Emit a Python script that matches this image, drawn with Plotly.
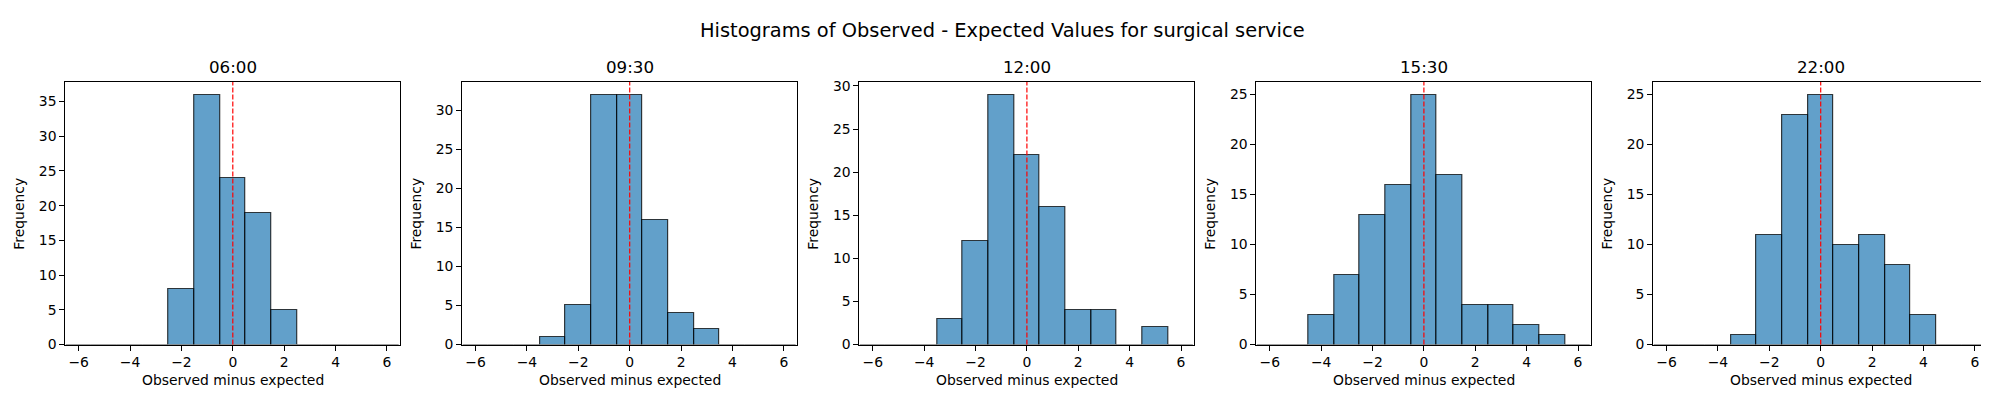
import plotly.graph_objects as go

W, H = 1989, 396

bin_centers = list(range(-6, 7))
titles = ["06:00", "09:30", "12:00", "15:30", "22:00"]
counts_0600 = [0, 0, 0, 0, 8, 36, 24, 19, 5, 0, 0, 0, 0]
counts_0930 = [0, 0, 0, 1, 5, 32, 32, 16, 4, 2, 0, 0, 0]
counts_1200 = [0, 0, 0, 3, 12, 29, 22, 16, 4, 4, 0, 2, 0]
counts_1530 = [0, 0, 3, 7, 13, 16, 25, 17, 4, 4, 2, 1, 0]
counts_2200 = [0, 0, 0, 1, 11, 23, 25, 10, 11, 8, 3, 0, 0]
all_counts = [counts_0600, counts_0930, counts_1200, counts_1530, counts_2200]
x_ticks = [-6, -4, -2, 0, 2, 4, 6]

suptitle = "Histograms of Observed - Expected Values for surgical service"
xlabel = "Observed minus expected"
ylabel = "Frequency"

FONT = "DejaVu Sans, sans-serif"

# layout in pixels
lefts = [57.3, 454.2, 851.4, 1248.4, 1645.2]
pw = 335.0
top_px, bot_px = 72.3, 343.0

fig = go.Figure()
annotations = []
shapes = []
for i, (t, c) in enumerate(zip(titles, all_counts)):
    n = i + 1
    xa = "x" if n == 1 else f"x{n}"
    ya = "y" if n == 1 else f"y{n}"
    fig.add_trace(go.Bar(
        x=bin_centers, y=c, width=1.0,
        marker=dict(color="rgba(31,119,180,0.7)",
                    line=dict(color="rgba(0,0,0,0.75)", width=1.2)),
        xaxis=xa, yaxis=ya, showlegend=False, hoverinfo="x+y",
    ))
    x0 = lefts[i] / W
    x1 = (lefts[i] + pw) / W
    ymax = max(c) * 1.05
    fig.layout[f"xaxis{'' if n == 1 else n}"] = dict(
        domain=[x0, x1], anchor=ya, range=[-6.52, 6.52],
        tickvals=x_ticks, ticks="outside", ticklen=5, tickwidth=1,
        tickcolor="black", showline=True, linecolor="black", linewidth=1,
        mirror=True, showgrid=False, zeroline=False,
        tickfont=dict(family=FONT, size=13.9, color="black"),
    )
    fig.layout[f"yaxis{'' if n == 1 else n}"] = dict(
        domain=[1 - bot_px / H, 1 - top_px / H], anchor=xa, range=[0, ymax],
        dtick=5, tick0=0, ticks="outside", ticklen=5, tickwidth=1,
        tickcolor="black", showline=True, linecolor="black", linewidth=1,
        mirror=True, showgrid=False, zeroline=False,
        tickfont=dict(family=FONT, size=13.9, color="black"),
    )
    shapes.append(dict(type="line", xref=xa, yref=f"{ya} domain",
                       x0=0, x1=0, y0=0, y1=1,
                       line=dict(color="red", width=1.2, dash="5px,2px")))
    cx = (lefts[i] + pw / 2) / W
    annotations.append(dict(text=t, x=cx, y=1 - top_px / H, xref="paper",
                            yref="paper", xanchor="center", yanchor="bottom",
                            yshift=3, showarrow=False,
                            font=dict(family=FONT, size=16.7, color="black")))
    annotations.append(dict(text=xlabel, x=cx, y=1 - 379 / H, xref="paper",
                            yref="paper", xanchor="center", yanchor="middle",
                            showarrow=False,
                            font=dict(family=FONT, size=13.9, color="black")))
    annotations.append(dict(text=ylabel, x=(lefts[i] - 46) / W,
                            y=1 - (top_px + bot_px) / 2 / H,
                            xref="paper", yref="paper", xanchor="center",
                            yanchor="middle", textangle=-90, showarrow=False,
                            font=dict(family=FONT, size=13.9, color="black")))

annotations.append(dict(text=suptitle, x=0.5, y=1 - 19 / H, xref="paper",
                        yref="paper", xanchor="center", yanchor="middle",
                        showarrow=False,
                        font=dict(family=FONT, size=19.4, color="black")))

fig.update_layout(
    width=W, height=H, margin=dict(l=0, r=0, t=0, b=0),
    plot_bgcolor="white", paper_bgcolor="white",
    annotations=annotations, shapes=shapes, bargap=0,
    font=dict(family=FONT, color="black"),
)

fig.write_html("out.html")
